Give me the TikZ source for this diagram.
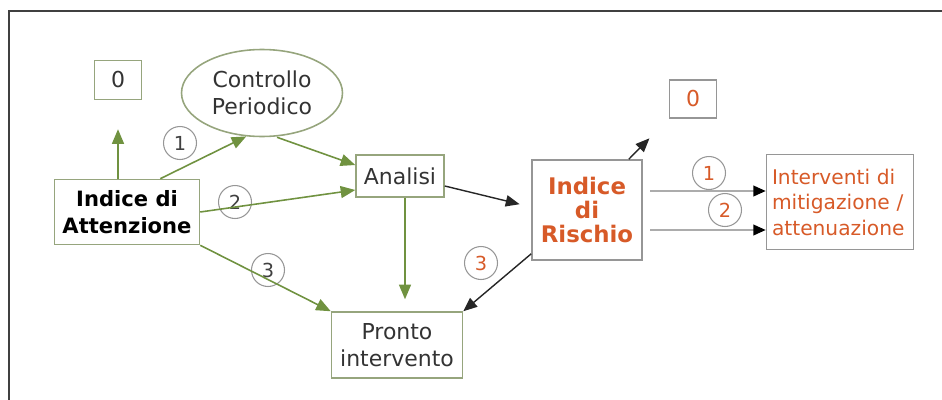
\documentclass[tikz,border=0pt]{standalone}
\usepackage{fontspec}
\setmainfont{DejaVu Sans}
\usepackage{tikz}
\usetikzlibrary{positioning,arrows,arrows.meta,calc,shapes.geometric}

\definecolor{olive}{RGB}{112,146,64}
\definecolor{boxgreen}{RGB}{150,165,125}
\definecolor{boxgray}{RGB}{150,150,150}
\definecolor{rust}{RGB}{215,90,40}

\tikzset{
  box/.style={draw=boxgreen, line width=0.9pt, align=center, inner sep=2pt,
    text=black!80, font=\fontsize{12.5}{15.5}\selectfont},
  rbox/.style={box, draw=boxgray},
  num/.style={circle, draw=boxgray, line width=0.6pt, minimum size=0.66cm,
    inner sep=0pt, text=black!75, font=\fontsize{11}{12}\selectfont},
  garrow/.style={->, >=triangle 45, color=olive, line width=0.9pt},
  karrow/.style={->, >=triangle 45, color=black!85, line width=0.8pt},
  larrow/.style={-{Triangle[length=7pt,width=6pt,color=black,fill=black]}, color=gray!65, line width=1.1pt}
}

\begin{document}
\begin{tikzpicture}[x=0.02cm, y=-0.02cm]

  \useasboundingbox (0,0) rectangle (942,399);
  \draw[black!75, line width=1.4pt] (950,11) -- (9,11) -- (9,410);

  % left part
  \node[box, font=\bfseries\fontsize{12}{15.5}\selectfont, text=black, minimum width=2.9cm, minimum height=1.3cm] (att) at (127,212) {Indice di\\Attenzione};
  \node[box, minimum width=0.94cm, minimum height=0.78cm] (zero1) at (118,80) {0};
  \node[box, ellipse, minimum width=3.22cm, minimum height=1.74cm, inner sep=0pt] (ctrl) at (262,93) {Controllo\\Periodico};
  \node[box, minimum width=1.76cm, minimum height=0.84cm] (anal) at (400,176) {Analisi};
  \node[box, minimum width=2.62cm, minimum height=1.32cm] (pronto) at (397,345) {Pronto\\intervento};

  % right part
  \node[rbox, text=rust, font=\bfseries\fontsize{13}{13.5}\selectfont, minimum width=2.2cm, minimum height=2cm] (risc) at (587,210) {Indice\\di\\Rischio};
  \node[rbox, text=rust, minimum width=0.94cm, minimum height=0.76cm] (zero2) at (693,99) {0};
  \node[rbox, text=rust, align=left, text width=2.72cm, minimum width=2.94cm, minimum height=1.9cm, font=\fontsize{11.5}{14.5}\selectfont] (interv) at (840,202) {Interventi di\\mitigazione /\\attenuazione};

  \coordinate (as) at ($(anal.south)+(5,0)$);
  \coordinate (r1) at (650,191);
  \coordinate (r2) at (650,230);

  % numbers
  \node[num] (n1) at (180,143) {1};
  \node[num] (n2) at (235,202) {2};
  \node[num] (n3) at (268,270) {3};
  \node[num, text=rust] (m3) at (481,263) {3};
  \node[num, text=rust] (m1) at (709,173) {1};
  \node[num, text=rust] (m2) at (725,210) {2};

  \path[garrow, shorten >=0.58cm] (att.north -| zero1) edge (zero1.south);
  \path[garrow] ($(att.north east)+(-40,0)$) edge (ctrl.250);
  \path[garrow] ($(ctrl.south)+(15,0)$) edge (anal.west |- 0,165);
  \path[garrow] (att.east) edge ($(anal.west)+(0,14)$);
  \path[garrow] (att.south east) edge (pronto.north west);
  \path[garrow, shorten >=0.24cm] (as) edge (as |- pronto.north);

  \path[karrow, shorten >=0.24cm] ($(anal.east)+(0,10)$) edge ($(risc.west)+(0,-3)$);
  \path[karrow] ($(risc.south west)+(0,-7)$) edge (pronto.north east);
  \path[karrow, shorten >=0.55cm] ($(risc.north east)+(-14,0)$) edge (zero2.south west);
  \path[larrow] (r1) edge (r1 -| interv.west);
  \path[larrow] (r2) edge (r2 -| interv.west);

\end{tikzpicture}
\end{document}
